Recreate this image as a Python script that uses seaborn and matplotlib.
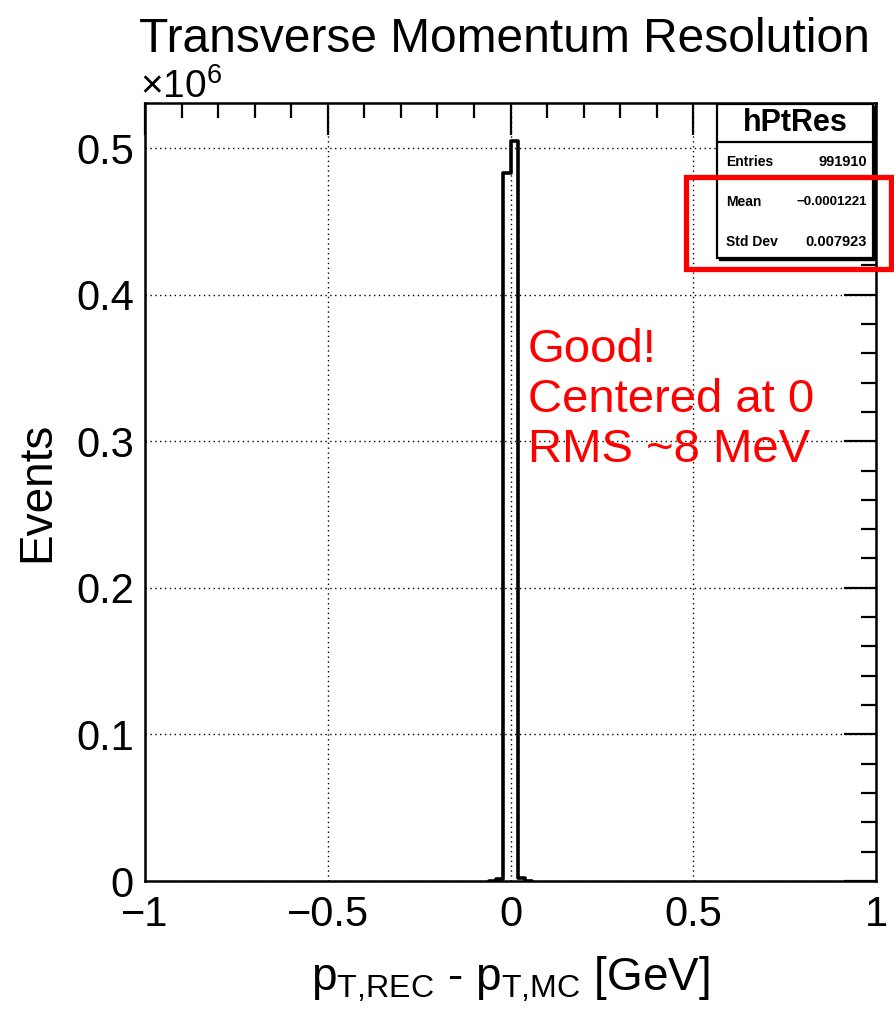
import numpy as np
import matplotlib
matplotlib.use("Agg")
import matplotlib.pyplot as plt
import seaborn as sns
from matplotlib.ticker import MultipleLocator, FuncFormatter
from matplotlib.patches import Rectangle

# ---- data ----
bin_edges = [-0.06, -0.04, -0.02, 0.0, 0.02, 0.04, 0.06]
bin_counts = [0, 1600, 483000, 505000, 2300, 0]
x_ticks = [-1, -0.5, 0, 0.5, 1]
y_ticks = [0, 100000, 200000, 300000, 400000, 500000]
stats_name = "hPtRes"
stats_labels = ["Entries", "Mean", "Std Dev"]
stats_values = ["991910", "\u22120.0001221", "0.007923"]
title = "Transverse Momentum Resolution"
note_lines = ["Good!", "Centered at 0", "RMS ~8 MeV"]

sns.set_style("white")
plt.rcParams["font.family"] = ["Liberation Sans", "DejaVu Sans"]
plt.rcParams["mathtext.fontset"] = "custom"
plt.rcParams["mathtext.rm"] = "Liberation Sans"
plt.rcParams["mathtext.it"] = "Liberation Sans"
plt.rcParams["text.color"] = "black"
plt.rcParams["axes.labelcolor"] = "black"
plt.rcParams["xtick.color"] = "black"
plt.rcParams["ytick.color"] = "black"

centers = [(bin_edges[i] + bin_edges[i + 1]) / 2 for i in range(len(bin_counts))]

fig = plt.figure(figsize=(8.94, 10.13), dpi=100)
W, H = 894, 1013
L, R, T, B = 145, 876, 103, 881
ax = fig.add_axes([L / W, 1 - B / H, (R - L) / W, (B - T) / H])

sns.histplot(x=centers, weights=bin_counts, bins=bin_edges, element="step",
             fill=False, color="black", linewidth=2.6, ax=ax)

ax.set_xlim(-1, 1)
ax.set_ylim(0, 530700)
ax.set_xticks(x_ticks)
ax.set_yticks(y_ticks)
ax.xaxis.set_minor_locator(MultipleLocator(0.1))
ax.yaxis.set_minor_locator(MultipleLocator(20000))
ax.xaxis.set_major_formatter(FuncFormatter(lambda v, p: f"{v:g}".replace("-", "\u2212")))
ax.yaxis.set_major_formatter(FuncFormatter(lambda v, p: f"{v / 1e6:g}"))
ax.tick_params(which="both", direction="in", top=True, right=True, width=1.6,
               labelsize=30, colors="black")
ax.tick_params(which="major", length=23)
ax.tick_params(which="minor", length=11)
ax.tick_params(axis="x", pad=10)
ax.tick_params(axis="y", pad=8)
ax.grid(True, which="major", linestyle=(0, (1, 2.5)), color="black", linewidth=1.0)
for s in ax.spines.values():
    s.set_linewidth(1.8)
    s.set_color("black")

ax.set_xlabel(r"p$_{\mathrm{T{,}REC}}$ - p$_{\mathrm{T{,}MC}}$ [GeV]", fontsize=33, labelpad=14)
ax.set_ylabel("Events", fontsize=33, labelpad=12)

fig.text(870 / W, 1 - 52 / H, title, fontsize=34.5, ha="right", va="baseline")
fig.text(140 / W, 1 - 98 / H, "\u00d710$^{6}$", fontsize=28, ha="left", va="baseline")

# stats box
bx0, bx1 = (717 - L) / (R - L), (873 - L) / (R - L)
by1, by0 = (B - 104) / (B - T), (B - 258) / (B - T)
ax.add_patch(Rectangle((bx0 + 0.003, by0 - 0.003), bx1 - bx0, by1 - by0, transform=ax.transAxes,
                       facecolor="black", edgecolor="black", zorder=5, clip_on=False))
ax.add_patch(Rectangle((bx0, by0), bx1 - bx0, by1 - by0, transform=ax.transAxes,
                       facecolor="white", edgecolor="black", linewidth=1.6, zorder=6, clip_on=False))
sep = (B - 142) / (B - T)
ax.plot([bx0, bx1], [sep, sep], transform=ax.transAxes, color="black", lw=1.6, zorder=7, clip_on=False)
ax.text((bx0 + bx1) / 2, (by1 + sep) / 2, stats_name, transform=ax.transAxes, ha="center",
        va="center", fontsize=22, fontweight="bold", zorder=8)
row_y = [162, 202, 242]
val_sizes = [10.5, 9.5, 10.5]
for lab, val, yy, vs in zip(stats_labels, stats_values, row_y, val_sizes):
    yf = (B - yy) / (B - T)
    ax.text((726 - L) / (R - L), yf, lab, transform=ax.transAxes, ha="left", va="center",
            fontsize=10, fontweight="bold", zorder=8)
    ax.text((867 - L) / (R - L), yf, val, transform=ax.transAxes, ha="right", va="center",
            fontsize=vs, fontweight="bold", zorder=8)

# red annotation
fig.patches.append(Rectangle((686 / W, 1 - 269 / H), (891 - 686) / W, (269 - 177) / H,
                             transform=fig.transFigure, fill=False, edgecolor="#ff0000",
                             linewidth=3.8, zorder=10))
fig.text(528 / W, 1 - 462 / H, "\n".join(note_lines), color="#ff0000", fontsize=34,
         ha="left", va="baseline", linespacing=1.17)

fig.savefig("out.png", dpi=100)
